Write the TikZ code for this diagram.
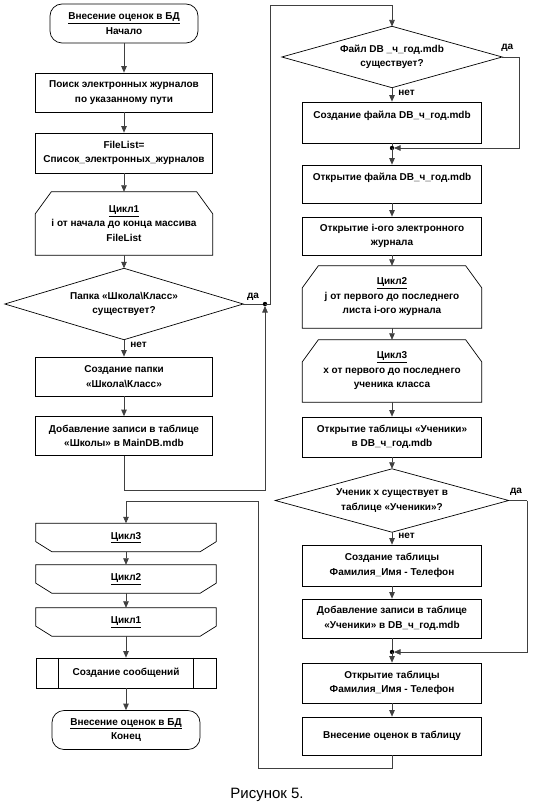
\documentclass[tikz,border=0pt]{standalone}
\usepackage{fontspec}
\setmainfont{Liberation Sans}
\usetikzlibrary{arrows.meta,calc}
\begin{document}
\begin{tikzpicture}[x=1pt,y=-1pt,
  txt/.style={font=\bfseries\fontsize{10}{14.5}\selectfont, align=center, inner sep=0pt},
  proc/.style={txt, draw, line width=0.7pt, rectangle, minimum width=179pt},
  term/.style={txt, draw, line width=0.7pt, rounded corners=12pt, minimum width=148pt, minimum height=39pt},
  freebox/.style={txt, draw=none, rectangle},
  edge/.style={line width=0.7pt},
  line/.style={draw=black!75, line width=0.7pt},
  conn/.style={line, -{Triangle[width=5.5pt,length=6.5pt]}},
  lbl/.style={font=\bfseries\fontsize{10}{11}\selectfont, inner sep=1pt},
  dot/.style={fill=black}
]
\useasboundingbox (0,0) rectangle (534,810);

% ---------------- left column ----------------
\node[term] (start) at (124,23.5) {\underline{Внесение оценок в БД}\\Начало};
\node[proc, minimum width=177pt, minimum height=39pt] (b2) at (124,92.5) {Поиск электронных журналов\\по указанному пути};
\node[proc, minimum width=177pt, minimum height=40pt] (b3) at (124,153) {FileList=\\Список\_электронных\_журналов};
\node[freebox, minimum width=177pt, minimum height=63pt] (c1s) at (124,223.5) {\underline{Цикл1}\\i от начала до конца массива\\FileList};
\draw[edge] (c1s.south west) -- ($(c1s.north west)+(0,22)$) -- ($(c1s.north west)+(16,0)$) -- ($(c1s.north east)+(-16,0)$) -- ($(c1s.north east)+(0,22)$) -- (c1s.south east) -- cycle;
\node[freebox, minimum width=238pt, minimum height=71pt] (d1) at (124,304) {Папка «Школа\textbackslash Класс»\\существует?};
\draw[edge] (d1.north) -- (d1.east) -- (d1.south) -- (d1.west) -- cycle;
\node[proc, minimum width=177pt, minimum height=39pt] (b4) at (124,376.5) {Создание папки\\«Школа\textbackslash Класс»};
\node[proc, minimum width=177pt, minimum height=39pt] (b5) at (124,436) {Добавление записи в таблице\\«Школы» в MainDB.mdb};

\coordinate (j0) at (265,304);
\coordinate (r1) at (265,490);
\coordinate (t1) at (270,5);

\draw[conn] (start) -- (b2);
\draw[conn] (b2) -- (b3);
\draw[conn] (b3) -- (c1s);
\draw[conn] (c1s) -- (d1.north);
\draw[conn] (d1.south) -- (b4) node[lbl, pos=0.3, anchor=west, xshift=5pt] {нет};
\draw[conn] (b4) -- (b5);
\draw[line] (d1.east) -- (j0) node[lbl, pos=0.45, anchor=south, yshift=2pt] {да};
\draw[conn, shorten >=2pt] (b5.south) -- (b5.south |- r1) -- (r1) -- (j0);
\fill[dot] (j0) circle (2.2pt);
\draw[conn] (j0) -- (j0 -| t1) -- (t1) -- (t1 -| 392,0) -- (392,26.5);

% ---------------- right column ----------------
\node[freebox, minimum width=220pt, minimum height=61pt] (rd1) at (392,57) {Файл DB \_ч\_год.mdb\\существует?};
\draw[edge] (rd1.north) -- (rd1.east) -- (rd1.south) -- (rd1.west) -- cycle;
\node[proc, minimum height=41pt] (rb1) at (392,122.5) {Создание файла DB\_ч\_год.mdb\\~};
\coordinate (j1) at (392,148);
\node[proc, minimum height=38pt] (rb2) at (392,184) {Открытие файла DB\_ч\_год.mdb\\~};
\node[proc, minimum height=38pt] (rb3) at (392,236) {Открытие i-ого электронного\\журнала};
\node[freebox, minimum width=179pt, minimum height=62pt] (rc2) at (392,297) {\underline{Цикл2}\\j от первого до последнего\\листа i-ого журнала};
\draw[edge] (rc2.south west) -- ($(rc2.north west)+(0,22)$) -- ($(rc2.north west)+(16,0)$) -- ($(rc2.north east)+(-16,0)$) -- ($(rc2.north east)+(0,22)$) -- (rc2.south east) -- cycle;
\node[freebox, minimum width=179pt, minimum height=62pt] (rc3) at (392,371) {\underline{Цикл3}\\x от первого до последнего\\ученика класса};
\draw[edge] (rc3.south west) -- ($(rc3.north west)+(0,22)$) -- ($(rc3.north west)+(16,0)$) -- ($(rc3.north east)+(-16,0)$) -- ($(rc3.north east)+(0,22)$) -- (rc3.south east) -- cycle;
\node[proc, minimum height=40pt] (rb4) at (392,437) {Открытие таблицы «Ученики»\\в DB\_ч\_год.mdb};
\node[freebox, minimum width=233pt, minimum height=63pt] (rd2) at (392,500.5) {Ученик x существует в\\таблице «Ученики»?};
\draw[edge] (rd2.north) -- (rd2.east) -- (rd2.south) -- (rd2.west) -- cycle;
\node[proc, minimum height=41pt] (rb5) at (392,565.5) {Создание таблицы\\Фамилия\_Имя - Телефон};
\node[proc, minimum height=39pt] (rb6) at (392,618.5) {Добавление записи в таблице\\«Ученики» в DB\_ч\_год.mdb};
\coordinate (j2) at (392,652);
\node[proc, minimum height=40pt] (rb7) at (392,683) {Открытие таблицы\\Фамилия\_Имя - Телефон};
\node[proc, minimum height=38pt] (rb8) at (392,736) {Внесение оценок в таблицу};

\coordinate (ry1) at (519,148);
\coordinate (ry2) at (527,652);

\draw[conn] (rd1.south) -- (rb1) node[lbl, pos=0.35, anchor=west, xshift=5pt] {нет};
\draw[line] (rd1.east) -- (rd1.east -| ry1) node[lbl, pos=0.3, anchor=south, yshift=4pt] {да};
\draw[conn, shorten >=2pt] (rd1.east -| ry1) -- (ry1) -- (j1);
\draw[line] (rb1) -- (j1);
\fill[dot] (j1) circle (2.2pt);
\draw[conn] (j1) -- (rb2);
\draw[conn] (rb2) -- (rb3);
\draw[conn] (rb3) -- (rc2);
\draw[conn] (rc2) -- (rc3);
\draw[conn] (rc3) -- (rb4);
\draw[conn] (rb4) -- (rd2.north);
\draw[conn] (rd2.south) -- (rb5) node[lbl, pos=0.3, anchor=west, xshift=5pt] {нет};
\draw[line] (rd2.east) -- (rd2.east -| ry2) node[lbl, pos=0.4, anchor=south, yshift=4pt] {да};
\draw[conn, shorten >=2pt] (rd2.east -| ry2) -- (ry2) -- (j2);
\draw[conn] (rb5) -- (rb6);
\draw[line] (rb6) -- (j2);
\fill[dot] (j2) circle (2.2pt);
\draw[conn] (j2) -- (rb7);
\draw[conn] (rb7) -- (rb8);

% ---------------- lower left ----------------
\node[freebox, minimum width=180pt, minimum height=28pt] (e3) at (126,537.5) {\underline{Цикл3}};
\node[freebox, minimum width=180pt, minimum height=28pt] (e2) at (126,579) {\underline{Цикл2}};
\node[freebox, minimum width=180pt, minimum height=28pt] (e1) at (126,622) {\underline{Цикл1}};
\foreach \n in {e3,e2,e1}{
  \draw[edge] (\n.north west) -- ($(\n.south west)+(0,-10)$) -- ($(\n.south west)+(16,0)$) -- ($(\n.south east)+(-16,0)$) -- ($(\n.south east)+(0,-10)$) -- (\n.north east) -- cycle;
}
\node[proc, minimum width=180pt, minimum height=30pt] (msg) at (126,673) {Создание сообщений};
\draw[edge] ($(msg.north west)+(23,0)$) -- ($(msg.south west)+(23,0)$);
\draw[edge] ($(msg.north east)+(-23,0)$) -- ($(msg.south east)+(-23,0)$);
\node[term] (end) at (126,730) {\underline{Внесение оценок в БД}\\Конец};

\coordinate (r2) at (258,768);
\coordinate (r3) at (258,501);
\draw[conn] (rb8.south) -- (rb8.south |- r2) -- (r2) -- (r3) -- (r3 -| e3.north) -- (e3.north);
\draw[conn] (e3) -- (e2);
\draw[conn] (e2) -- (e1);
\draw[conn] (e1) -- (msg);
\draw[conn] (msg) -- (end);

\node[font=\fontsize{15}{17}\selectfont, inner sep=0pt] (cap) at (267,795) {Рисунок 5.};
\end{tikzpicture}
\end{document}
